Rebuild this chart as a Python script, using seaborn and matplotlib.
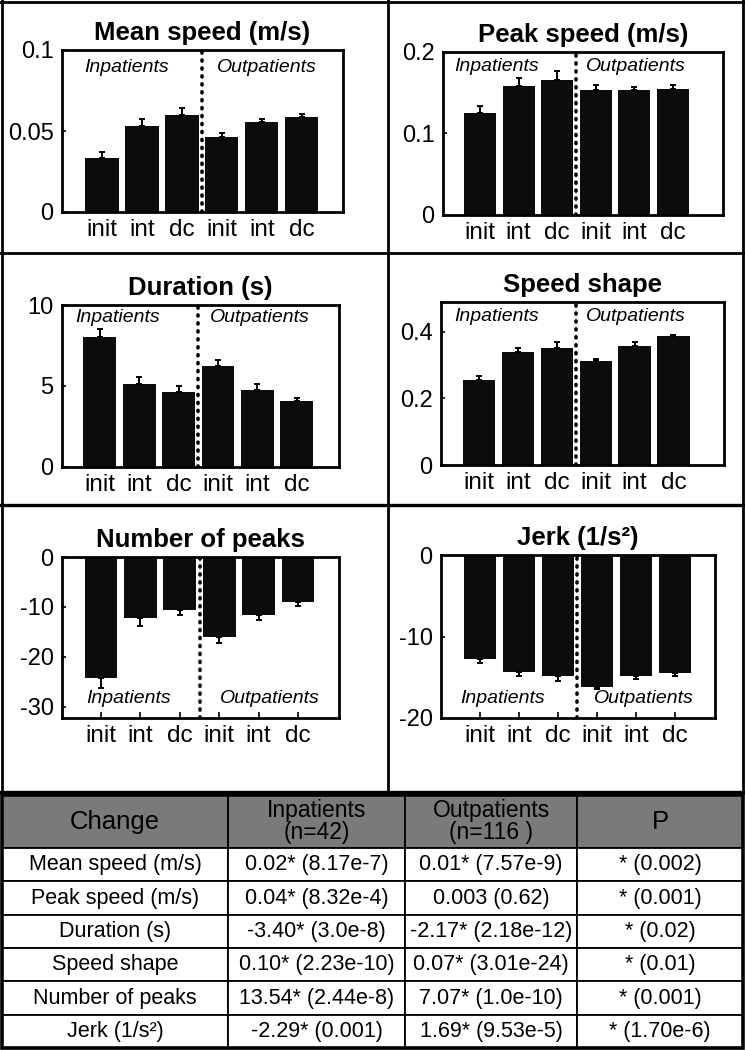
import matplotlib
matplotlib.use("Agg")
import matplotlib.pyplot as plt
import seaborn as sns
import pandas as pd
from matplotlib.lines import Line2D
from matplotlib.patches import Rectangle

plt.rcParams['font.family'] = ['Liberation Sans', 'DejaVu Sans']

W, H, DPI = 745, 1050, 100

# ---------------- data ----------------
conditions = ["init", "int", "dc", "init", "int", "dc"]
groups = ["Inpatients"] * 3 + ["Outpatients"] * 3
keys = [f"{g}-{c}" for g, c in zip(groups, conditions)]

mean_speed = [0.0336, 0.053, 0.060, 0.0464, 0.0555, 0.0588]
mean_speed_err = [0.0035, 0.0046, 0.0043, 0.0021, 0.0022, 0.0020]
peak_speed = [0.125, 0.158, 0.166, 0.153, 0.153, 0.155]
peak_speed_err = [0.009, 0.010, 0.011, 0.006, 0.004, 0.004]
duration = [8.04, 5.13, 4.64, 6.25, 4.76, 4.08]
duration_err = [0.46, 0.44, 0.33, 0.33, 0.35, 0.21]
speed_shape = [0.257, 0.341, 0.353, 0.314, 0.357, 0.387]
speed_shape_err = [0.012, 0.011, 0.016, 0.006, 0.013, 0.004]
n_peaks = [-24.2, -12.3, -10.7, -16.0, -11.7, -9.1]
n_peaks_err = [2.1, 1.6, 1.0, 1.2, 1.0, 0.8]
jerk = [-12.7, -14.3, -14.9, -16.2, -14.8, -14.5]
jerk_err = [0.5, 0.5, 0.5, 0.3, 0.4, 0.4]

titles = ["Mean speed (m/s)", "Peak speed (m/s)", "Duration (s)",
          "Speed shape", "Number of peaks", "Jerk (1/s\u00b2)"]
values = [mean_speed, peak_speed, duration, speed_shape, n_peaks, jerk]
errors = [mean_speed_err, peak_speed_err, duration_err, speed_shape_err, n_peaks_err, jerk_err]
yticks = [[0, 0.05, 0.1], [0, 0.1, 0.2], [0, 5, 10], [0, 0.2, 0.4],
          [-30, -20, -10, 0], [-20, -10, 0]]
yticklabels = [["0", "0.05", "0.1"], ["0", "0.1", "0.2"], ["0", "5", "10"],
               ["0", "0.2", "0.4"], ["-30", "-20", "-10", "0"], ["-20", "-10", "0"]]

# table
col_labels = ["Change", "Inpatients\n(n=42)", "Outpatients\n(n=116 )", "P"]
row_labels = ["Mean speed (m/s)", "Peak speed (m/s)", "Duration (s)",
              "Speed shape", "Number of peaks", "Jerk (1/s\u00b2)"]
inpatient_change = ["0.02* (8.17e-7)", "0.04* (8.32e-4)", "-3.40* (3.0e-8)",
                    "0.10* (2.23e-10)", "13.54* (2.44e-8)", "-2.29* (0.001)"]
outpatient_change = ["0.01* (7.57e-9)", "0.003 (0.62)", "-2.17* (2.18e-12)",
                     "0.07* (3.01e-24)", "7.07* (1.0e-10)", "1.69* (9.53e-5)"]
p_values = ["* (0.002)", "* (0.001)", "* (0.02)", "* (0.01)", "* (0.001)", "* (1.70e-6)"]

# ---------------- layout ----------------
def px_rect(l, t, r, b):
    return [l / W, 1 - b / H, (r - l) / W, (b - t) / H]

axes_px = [(62, 50, 343, 212), (443, 52, 723, 215),
           (62, 305, 339, 467), (441, 302, 724, 465),
           (62, 557, 339, 718), (441, 555, 715, 718)]
ylims = [(0, 0.1), (0, 0.2), (0, 10), (0, 0.49), (-32.3, 0), (-20, 0)]
xlims = [(-1, 6.03), (-0.96, 6.3), (-0.96, 6.07), (-0.98, 6.3), (-0.99, 6.04), (-1.0, 6.03)]
lab_pos = [((0.23, 0.89), (0.73, 0.89)), ((0.19, 0.91), (0.69, 0.91)),
           ((0.20, 0.925), (0.715, 0.925)), ((0.195, 0.91), (0.69, 0.91)),
           ((0.24, 0.12), (0.75, 0.12)), ((0.225, 0.12), (0.74, 0.12))]

fig = plt.figure(figsize=(W / DPI, H / DPI), dpi=DPI)
fig.patch.set_facecolor("white")

bar_color = "#0c0c0c"
for i in range(6):
    ax = fig.add_axes(px_rect(*axes_px[i]))
    df = pd.DataFrame({"key": keys, "value": values[i]})
    sns.barplot(data=df, x="key", y="value", order=keys, color=bar_color,
                saturation=1, width=0.83, errorbar=None, ax=ax, zorder=2)
    err = errors[i]
    zeros = [0] * len(err)
    yerr = [zeros, err] if values[i][0] > 0 else [err, zeros]
    ax.errorbar(range(len(keys)), values[i], yerr=yerr, fmt="none",
                ecolor="black", elinewidth=1.4, capsize=2.2, capthick=1.4, zorder=3)
    ax.axvline(2.5, color="black", lw=2.6, ls=(0, (0.3, 1.9)),
               dash_capstyle="round", zorder=4)
    ax.set_xlim(*xlims[i])
    ax.set_ylim(*ylims[i])
    ax.set_yticks(yticks[i])
    ax.set_yticklabels(yticklabels[i], fontsize=17)
    ax.set_xticks(range(len(keys)))
    ax.set_xticklabels(conditions, fontsize=17.5)
    ax.set_xlabel("")
    ax.set_ylabel("")
    ax.tick_params(axis="y", direction="in", length=3, width=1.2, pad=6)
    ax.tick_params(axis="x", direction="in", length=4, width=1.2, pad=5)
    for sp in ax.spines.values():
        sp.set_linewidth(2.0)
        sp.set_color("black")
    ax.set_title(titles[i], fontsize=18.5, fontweight="bold", pad=7)
    (ix, iy), (ox, oy) = lab_pos[i]
    ax.text(ix, iy, "Inpatients", transform=ax.transAxes, fontsize=14,
            style="italic", ha="center", va="center", zorder=5)
    ax.text(ox, oy, "Outpatients", transform=ax.transAxes, fontsize=14,
            style="italic", ha="center", va="center", zorder=5)

# panel frame lines
def fline(x0, y0, x1, y1, lw=2.0):
    fig.add_artist(Line2D([x0 / W, x1 / W], [1 - y0 / H, 1 - y1 / H],
                          transform=fig.transFigure, color="black", lw=lw))

fline(0, 1.5, W, 1.5)
fline(1.5, 0, 1.5, 793)
fline(743, 0, 743, 793)
fline(388, 0, 388, 792)
fline(0, 253, W, 253)
fline(0, 505, W, 505, lw=2.4)
fline(0, 792, W, 792, lw=2.4)

# ---------------- table ----------------
tab_ax = fig.add_axes(px_rect(2, 795, 743, 1048))
tab_ax.axis("off")
cell_text = [list(r) for r in zip(row_labels, inpatient_change, outpatient_change, p_values)]
col_w = [226, 177, 172, 166]
tbl = tab_ax.table(cellText=cell_text, colLabels=col_labels, cellLoc="center",
                   colWidths=[c / sum(col_w) for c in col_w], bbox=[0, 0, 1, 1])
tbl.auto_set_font_size(False)
for (r, c), cell in tbl.get_celld().items():
    cell.set_edgecolor("black")
    cell.set_linewidth(1.3)
    if r == 0:
        cell.set_height(53)
        cell.set_facecolor("#7a7a7a")
        cell.get_text().set_fontsize(18.5 if c in (0, 3) else 16.5)
        cell.get_text().set_linespacing(0.92)
    else:
        cell.set_height(33.3)
        cell.set_facecolor("white")
        cell.get_text().set_fontsize(15.5)
tab_ax.add_patch(Rectangle((0, 0), 1, 1, transform=tab_ax.transAxes, fill=False,
                           edgecolor="black", lw=2.6, zorder=10, clip_on=False))

fig.savefig("out.png", dpi=DPI, facecolor="white")
